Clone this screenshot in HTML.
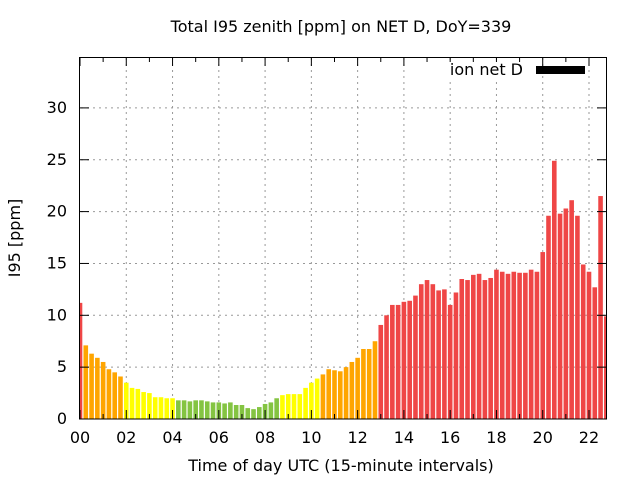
<!DOCTYPE html>
<html><head><meta charset="utf-8"><style>
html,body{margin:0;padding:0;background:#fff;}
svg{display:block;font-family:"DejaVu Sans","Liberation Sans",sans-serif;}
</style></head><body>
<svg id="s" width="640" height="480" xmlns="http://www.w3.org/2000/svg">
<defs><clipPath id="c"><rect x="80" y="57" width="526.5" height="362"/></clipPath></defs>
<g id="grid" stroke="#999" stroke-width="1" stroke-dasharray="2,4"></g>
<g id="bars" clip-path="url(#c)"></g>
<g id="ticks" stroke="#000" stroke-width="1"></g>
<rect x="79.5" y="57.5" width="527" height="361.5" fill="none" stroke="#000" stroke-width="1"/>
<g id="labels" font-size="16" fill="#000"></g>
<text x="341" y="32" font-size="16" text-anchor="middle">Total I95 zenith [ppm] on NET D, DoY=339</text>
<text x="341" y="471" font-size="16" text-anchor="middle">Time of day UTC (15-minute intervals)</text>
<text transform="translate(20,238) rotate(-90)" font-size="16" text-anchor="middle">I95 [ppm]</text>
<rect x="446" y="62" width="78" height="16" fill="#fff"/>
<text x="523" y="75" font-size="16" text-anchor="end">ion net D</text>
<rect x="536" y="66" width="49" height="8" fill="#000"/>
</svg>
<script>
var v=[11.2,7.1,6.3,5.9,5.5,4.8,4.5,4.1,3.5,3.0,2.9,2.6,2.5,2.1,2.1,2.0,2.0,
1.8,1.8,1.7,1.8,1.8,1.7,1.6,1.6,1.5,1.6,1.35,1.35,1.05,0.95,1.15,1.45,1.6,2.0,
2.3,2.4,2.4,2.4,3.0,3.5,3.9,
4.3,4.8,4.7,4.6,5.0,5.5,5.9,6.75,6.75,7.5,
9.07,10.0,11.0,11.0,11.3,11.4,11.9,13.0,13.4,13.0,12.4,12.5,11.0,12.2,13.5,13.4,13.9,14.0,13.4,13.6,14.4,14.2,14.0,14.2,14.1,14.1,14.4,14.2,16.1,19.6,24.9,19.8,20.3,21.1,19.6,14.9,14.2,12.7,21.5,9.9];
function col(i){if(i==0||i>=52)return"#ef4646";if(i<=7||(i>=42&&i<=51))return"#ffa500";if(i<=16||(i>=35&&i<=41))return"#ffff00";return"#84c442";}
var ns="http://www.w3.org/2000/svg",X0=80,PX=23.136,Y0=419,PY=10.37;
function el(p,t,a,txt){var e=document.createElementNS(ns,t);for(var k in a)e.setAttribute(k,a[k]);if(txt!=null)e.textContent=txt;document.getElementById(p).appendChild(e);}
v.forEach(function(y,i){var cx=X0+i*PX/4;el("bars","rect",{x:cx-2.3,y:Y0-y*PY,width:4.6,height:y*PY,fill:col(i)});});
for(var h=0;h<=22;h+=2){var x=X0+h*PX;if(h>0)el("grid","line",{x1:x,y1:58,x2:x,y2:418});
el("ticks","line",{x1:x,y1:419,x2:x,y2:410});el("ticks","line",{x1:x,y1:57,x2:x,y2:66});
el("labels","text",{x:x,y:443,"text-anchor":"middle"},(h<10?"0":"")+h);}
for(var h=1;h<=22;h+=2){var x=X0+h*PX;el("ticks","line",{x1:x,y1:419,x2:x,y2:414});el("ticks","line",{x1:x,y1:57,x2:x,y2:62});}
for(var y=0;y<=30;y+=5){var yy=Y0-y*PY;if(y>0)el("grid","line",{x1:81,y1:yy,x2:606,y2:yy});
el("ticks","line",{x1:80,y1:yy,x2:89,y2:yy});el("ticks","line",{x1:606,y1:yy,x2:597,y2:yy});
el("labels","text",{x:67,y:yy+5,"text-anchor":"end"},""+y);}
</script>
</body></html>
